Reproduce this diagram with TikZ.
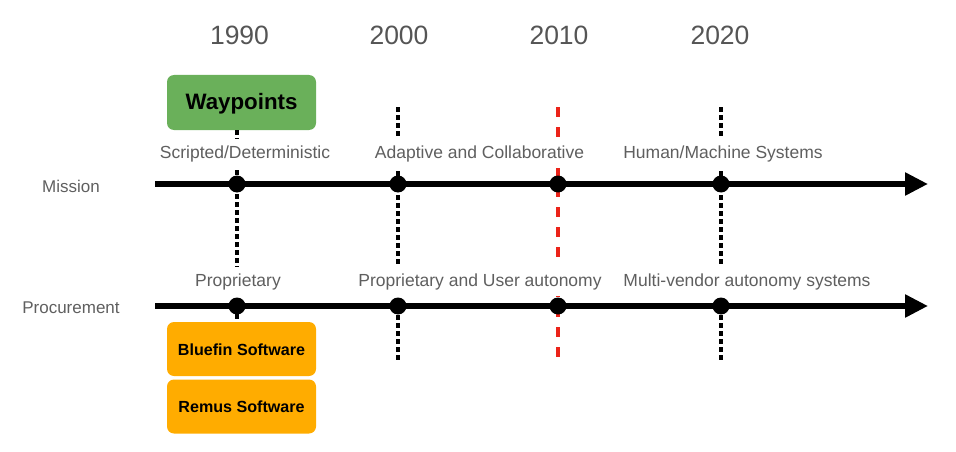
\documentclass[tikz,border=0pt]{standalone}
\usepackage{fontspec}
\setmainfont{Liberation Sans}
\usetikzlibrary{arrows.meta}
\definecolor{txtgray}{RGB}{95,95,95}
\definecolor{yeargray}{RGB}{85,85,85}
\definecolor{boxgreen}{RGB}{106,176,90}
\definecolor{boxorange}{RGB}{255,172,0}
\definecolor{redline}{RGB}{235,35,25}
\tikzset{
  year/.style={anchor=base, text=yeargray, font=\fontsize{26.5}{30}\selectfont, inner sep=0pt},
  lab/.style={anchor=base, text=txtgray, font=\fontsize{17.5}{20}\selectfont, fill=white, inner xsep=1pt, inner ysep=6pt},
  rowlab/.style={anchor=base, text=txtgray, font=\fontsize{17}{20}\selectfont, inner sep=0pt},
  axis/.style={line width=5.5pt, -{Triangle[length=23pt,width=22pt]}},
  dot/.style={circle, fill=black, minimum size=17pt, inner sep=0pt},
  vdash/.style={line width=3.2pt, dash pattern=on 4.5pt off 3.5pt},
  rdash/.style={line width=4pt, redline, dash pattern=on 10pt off 10pt},
  gbox/.style={rounded corners=7pt, fill=boxgreen, minimum width=149pt, minimum height=55pt, inner sep=0pt},
  obox/.style={rounded corners=7pt, fill=boxorange, minimum width=149pt, minimum height=54pt, inner sep=0pt},
}
\begin{document}
\begin{tikzpicture}[x=1pt,y=-1pt]
\useasboundingbox (0,0) rectangle (956,452);
% years
\node[year] (y1990) at (239.5,45) {1990};
\node[year] (y2000) at (399,45) {2000};
\node[year] (y2010) at (559,45) {2010};
\node[year] (y2020) at (720,45) {2020};
% boxes
\node[gbox] (wp) at (241.5,102.5) {};
\node[font=\fontsize{22.3}{26}\selectfont\bfseries, anchor=base, inner sep=0pt] (wpt) at (241.5,110) {Waypoints};
\node[obox] (bf) at (241.5,349) {};
\node[font=\fontsize{16.1}{19}\selectfont\bfseries, anchor=base, inner sep=0pt] (bft) at (241.5,355) {Bluefin Software};
\node[obox] (rm) at (241.5,406.5) {};
\node[font=\fontsize{16.1}{19}\selectfont\bfseries, anchor=base, inner sep=0pt] (rmt) at (241.5,412) {Remus Software};
% vertical guides
\coordinate (t1990) at (237,130); \coordinate (b1990) at (237,322);
\coordinate (t2000) at (398,107); \coordinate (b2000) at (398,363);
\coordinate (t2010) at (558,107); \coordinate (b2010) at (558,363);
\coordinate (t2020) at (721,107); \coordinate (b2020) at (721,363);
\draw[vdash] (t1990) -- (b1990);
\draw[vdash] (t2000) -- (b2000);
\draw[rdash] (t2010) -- (b2010);
\draw[vdash] (t2020) -- (b2020);
% labels
\node[lab] (l1) at (245,158) {Scripted/Deterministic};
\node[lab] (l2) at (479.5,158) {Adaptive and Collaborative};
\node[lab] (l3) at (723,158) {Human/Machine Systems};
\node[lab] (p1) at (238,286) {Proprietary};
\node[lab] (p2) at (480,286) {Proprietary and User autonomy};
\node[lab] (p3) at (747,286) {Multi-vendor autonomy systems};
\node[rowlab] (mis) at (71,192) {Mission};
\node[rowlab] (pro) at (71,313) {Procurement};
% axes
\coordinate (ms) at (155,184); \coordinate (me) at (928,184);
\coordinate (ps) at (155,306); \coordinate (pe) at (928,306);
\draw[axis] (ms) -- (me);
\draw[axis] (ps) -- (pe);
% dots
\foreach \x/\n in {237/a,398/b,558/c,721/d}{
  \node[dot] (md\n) at (\x,184) {};
  \node[dot] (pd\n) at (\x,306) {};
}
\end{tikzpicture}
\end{document}
